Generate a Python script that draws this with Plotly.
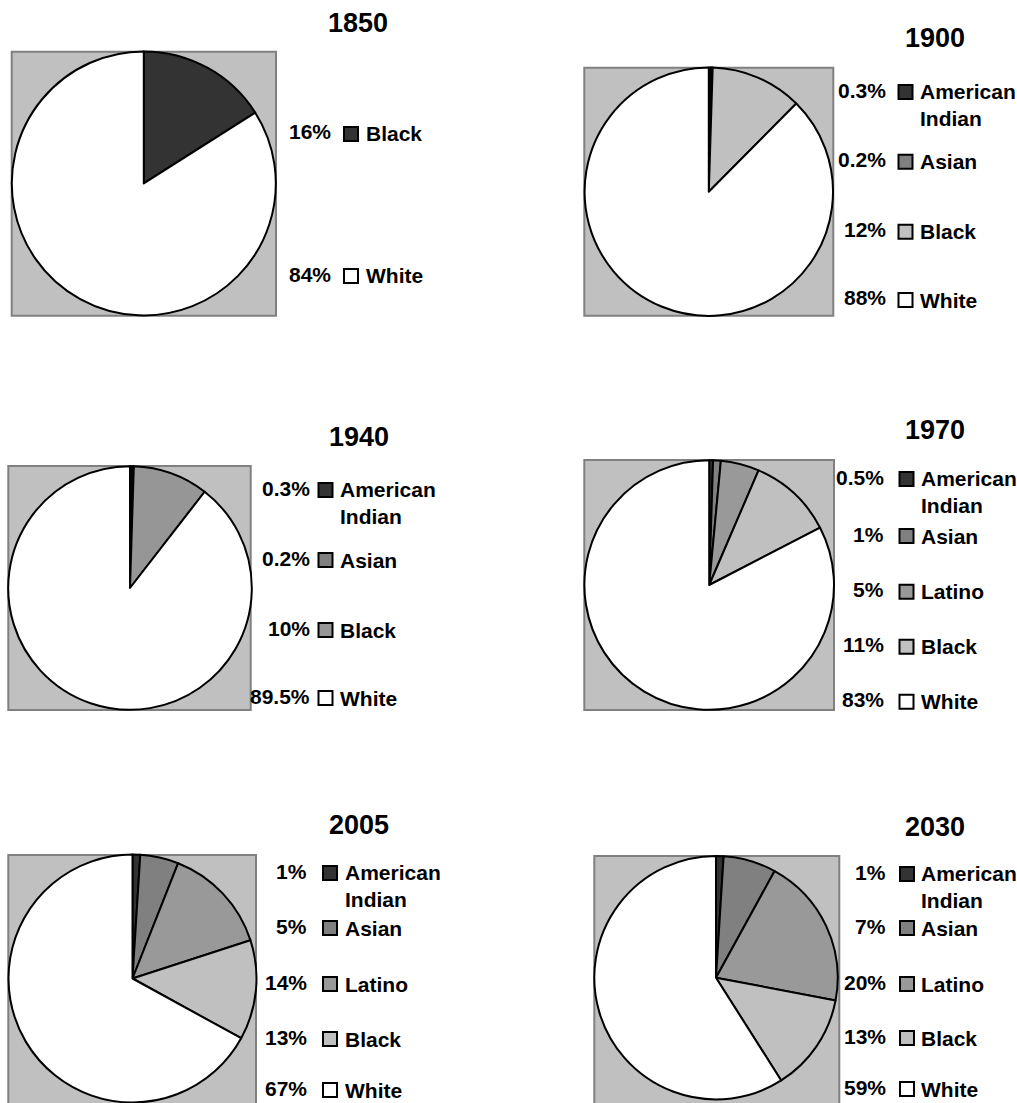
import plotly.graph_objects as go

# Population shares by race/ethnicity (percent) for each year
years = ["1850", "1900", "1940", "1970", "2005", "2030"]

groups_1850 = ["Black", "White"]
shares_1850 = [16, 84]

groups_1900 = ["American Indian", "Asian", "Black", "White"]
shares_1900 = [0.3, 0.2, 12, 88]

groups_1940 = ["American Indian", "Asian", "Black", "White"]
shares_1940 = [0.3, 0.2, 10, 89.5]

groups_1970 = ["American Indian", "Asian", "Latino", "Black", "White"]
shares_1970 = [0.5, 1, 5, 11, 83]

groups_2005 = ["American Indian", "Asian", "Latino", "Black", "White"]
shares_2005 = [1, 5, 14, 13, 67]

groups_2030 = ["American Indian", "Asian", "Latino", "Black", "White"]
shares_2030 = [1, 7, 20, 13, 59]

groups = [groups_1850, groups_1900, groups_1940, groups_1970, groups_2005, groups_2030]
shares = [shares_1850, shares_1900, shares_1940, shares_1970, shares_2005, shares_2030]

# Grayscale fills per panel, in slice order
fills = [
    ["#333333", "#ffffff"],
    ["#333333", "#808080", "#c0c0c0", "#ffffff"],
    ["#333333", "#808080", "#969696", "#ffffff"],
    ["#333333", "#808080", "#999999", "#c0c0c0", "#ffffff"],
    ["#333333", "#808080", "#999999", "#c0c0c0", "#ffffff"],
    ["#333333", "#808080", "#999999", "#c0c0c0", "#ffffff"],
]

W, H = 1017, 1103
FONT = "Arial, 'Liberation Sans', sans-serif"

# Panel geometry in pixels
panels = [
    dict(cx=143.8, cy=183.4, r=132, box=(11.7, 51.7, 276, 315.7), title=(358, 23),
         pct_right=333, sq_x=351, name_x=364, rows=[134, 276]),
    dict(cx=708.8, cy=191.7, r=124.2, box=(584.3, 67.7, 833.3, 315.7), title=(935, 38),
         pct_right=888, sq_x=905.5, name_x=918, rows=[92, 161.7, 231.7, 300]),
    dict(cx=130, cy=588, r=121.8, box=(8.3, 466, 250.7, 710), title=(359, 437),
         pct_right=312, sq_x=325.5, name_x=338, rows=[490, 560, 630, 698]),
    dict(cx=709.2, cy=585, r=124.8, box=(584.3, 460, 834, 710), title=(935, 430),
         pct_right=886, sq_x=906.5, name_x=919, rows=[479, 536, 591.7, 646.7, 701.7]),
    dict(cx=132.5, cy=978.5, r=124, box=(8.3, 855, 256, 1110), title=(359, 825),
         pct_right=309, sq_x=330, name_x=342.7, rows=[873, 928, 984, 1039, 1090]),
    dict(cx=716, cy=977.7, r=121.7, box=(594.3, 856, 839.3, 1110), title=(935, 827),
         pct_right=888, sq_x=907, name_x=919, rows=[874, 928, 984, 1038, 1089]),
]


def px(x):
    return min(max(x / W, 0.0), 1.0)


def py(y):
    return 1 - y / H


def pyc(y):
    return min(max(1 - y / H, 0.0), 1.0)


fig = go.Figure()
shapes = []
annotations = []

for yr, labs, vals, cols, p in zip(years, groups, shares, fills, panels):
    # gray plot area behind each pie
    x0, y0, x1, y1 = p["box"]
    shapes.append(dict(type="rect", xref="paper", yref="paper",
                       x0=px(x0), x1=px(x1), y0=py(y1), y1=py(y0),
                       fillcolor="#c0c0c0", line=dict(color="#808080", width=2),
                       layer="below"))

    fig.add_trace(go.Pie(
        labels=labs, values=vals, sort=False, direction="clockwise", rotation=0,
        marker=dict(colors=cols, line=dict(color="black", width=2)),
        textinfo="none", hoverinfo="label+percent", showlegend=False,
        domain=dict(x=[px(p["cx"] - p["r"]), px(p["cx"] + p["r"])],
                    y=[pyc(p["cy"] + p["r"]), pyc(p["cy"] - p["r"])]),
    ))

    annotations.append(dict(text=f"<b>{yr}</b>", x=px(p["title"][0]), y=py(p["title"][1]),
                            xref="paper", yref="paper", showarrow=False,
                            xanchor="center", yanchor="middle",
                            font=dict(family=FONT, size=27, color="black")))

    # legend: value, swatch, group name
    for lab, v, c, ry in zip(labs, vals, cols, p["rows"]):
        annotations.append(dict(text=f"<b>{v:g}%</b>", x=px(p["pct_right"]), y=py(ry - 2),
                                xref="paper", yref="paper", showarrow=False,
                                xanchor="right", yanchor="middle",
                                font=dict(family=FONT, size=21, color="black")))
        shapes.append(dict(type="rect", xref="paper", yref="paper",
                           x0=px(p["sq_x"] - 7), x1=px(p["sq_x"] + 7),
                           y0=py(ry + 7), y1=py(ry - 7),
                           fillcolor=c, line=dict(color="black", width=2)))
        name = lab.replace(" ", "<br>")
        lines = name.count("<br>")
        annotations.append(dict(text=f"<b>{name}</b>", x=px(p["name_x"]),
                                y=py(ry + 13 * lines),
                                xref="paper", yref="paper", showarrow=False,
                                xanchor="left", yanchor="middle", align="left",
                                font=dict(family=FONT, size=21, color="black")))

fig.update_layout(
    width=W, height=H, margin=dict(l=0, r=0, t=0, b=0),
    paper_bgcolor="white", plot_bgcolor="white",
    shapes=shapes, annotations=annotations, showlegend=False,
)

fig.write_html("out.html")
